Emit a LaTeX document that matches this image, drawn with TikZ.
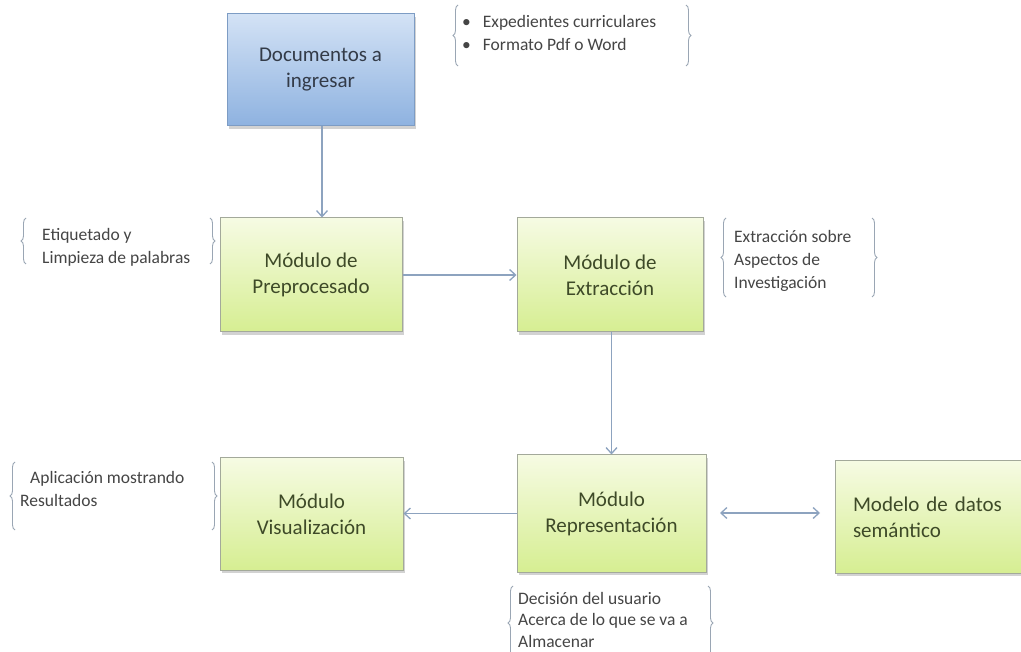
\documentclass[tikz,border=0pt]{standalone}
\usepackage{fontspec}
\setmainfont{Carlito}
\usetikzlibrary{arrows.meta,shadows,decorations.pathreplacing}
\definecolor{blueTop}{HTML}{D3E2F5}
\definecolor{blueBot}{HTML}{8EB2E0}
\definecolor{blueEdge}{HTML}{7D9CC4}
\definecolor{greenTop}{HTML}{F6FBE3}
\definecolor{greenBot}{HTML}{D6EE92}
\definecolor{greenEdge}{HTML}{A3A99A}
\definecolor{boxText}{HTML}{3E4A28}
\definecolor{docText}{HTML}{333B48}
\definecolor{noteText}{HTML}{454545}
\definecolor{braceCol}{HTML}{9AA6B4}
\definecolor{arrowCol}{HTML}{8DA3BF}
\tikzset{
  x=1pt,y=-1pt,
  basebox/.style={draw, line width=1pt, font=\fontsize{21}{26}\selectfont, align=center,
    drop shadow={opacity=0.35, shadow xshift=2pt, shadow yshift=-3pt}},
  docbox/.style={basebox, draw=blueEdge, top color=blueTop, bottom color=blueBot, text=docText},
  greenbox/.style={basebox, draw=greenEdge, top color=greenTop, bottom color=greenBot, text=boxText},
  note/.style={font=\fontsize{17.5}{23}\selectfont, text=noteText, align=left, inner sep=0pt},
  bracedraw/.style={draw=braceCol, line width=0.9pt, decorate, decoration={brace, amplitude=5pt}},
  conn/.style={draw=arrowCol, line width=1.3pt, -{Straight Barb[length=6pt,width=11pt]}},
  conn2/.style={draw=arrowCol, line width=1.3pt, {Straight Barb[length=6pt,width=11pt]}-{Straight Barb[length=6pt,width=11pt]}}
}
\begin{document}
\begin{tikzpicture}
\useasboundingbox (0,0) rectangle (1021,652);
\clip (0,0) rectangle (1021,652);
\fill[white] (0,0) rectangle (1021,652);

% boxes
\node[docbox, minimum width=187pt, minimum height=112pt] (doc) at (320.5,70) {Documentos a\\ingresar};
\node[greenbox, minimum width=182pt, minimum height=114pt] (pre) at (311,275) {Módulo de\\Preprocesado};
\node[greenbox, minimum width=186pt, minimum height=114pt] (ext) at (610,275) {Módulo de\\Extracción};
\node[greenbox, minimum width=183pt, minimum height=112pt] (vis) at (311.5,514) {Módulo\\Visualización};
\node[greenbox, minimum width=189pt, minimum height=117pt] (rep) at (611.5,513.5) {Módulo\\Representación};
\node[greenbox, minimum width=230pt, minimum height=112pt, align=left, text width=194pt, inner xsep=18pt] (mod) at (950,517) {Modelo de datos\\semántico};

% connectors
\coordinate (d1) at ([xshift=1.5pt]doc.south);
\draw[conn] (d1) -- (d1 |- pre.north);
\draw[conn] (pre.east) -- (ext.west);
\coordinate (e1) at ([xshift=1.5pt]ext.south);
\draw[conn] (e1) -- (e1 |- rep.north);
\draw[conn] (rep.west) -- (rep.west -| vis.east);
\coordinate (dl) at (720,513);
\coordinate (dr) at (820,513);
\draw[conn2] (dl) -- (dr);

% notes with braces
\node[note, anchor=north west] (n1) at (462,15) {•\hspace{12pt}Expedientes curriculares\\•\hspace{12pt}Formato Pdf o Word};
\draw[bracedraw] (458,66) -- (458,5);
\draw[bracedraw] (686,5) -- (686,66);

\node[note, anchor=north west] (n2) at (42,228) {Etiquetado y\\Limpieza de palabras};
\draw[bracedraw] (26,264) -- (26,218);
\draw[bracedraw] (210,218) -- (210,264);

\node[note, anchor=north west] (n3) at (734,230) {Extracción sobre\\Aspectos de\\Investigación};
\draw[bracedraw] (726,297) -- (726,218);
\draw[bracedraw] (872,218) -- (872,297);

\node[note, anchor=north west] (n4) at (20,471) {\hspace{10pt}Aplicación mostrando\\Resultados};
\draw[bracedraw] (15,530) -- (15,462);
\draw[bracedraw] (212,462) -- (212,530);

\node[note, anchor=north west, font=\fontsize{17.5}{21.5}\selectfont] (n5) at (518,592) {Decisión del usuario\\Acerca de lo que se va a\\Almacenar};
\draw[bracedraw] (513,660) -- (513,586);
\draw[bracedraw] (708,586) -- (708,660);
\end{tikzpicture}
\end{document}
